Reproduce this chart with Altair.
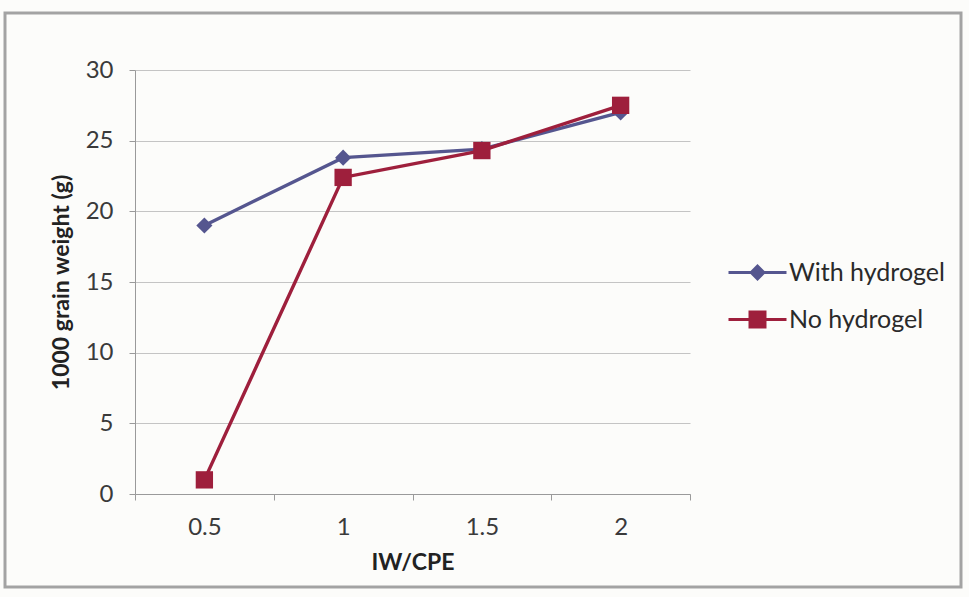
import altair as alt
import pandas as pd

# IW/CPE ratio levels and 1000-grain weight (g) for each treatment
iw_cpe = ["0.5", "1", "1.5", "2"]
with_hydrogel = [19.0, 23.8, 24.4, 27.0]
no_hydrogel = [1.0, 22.4, 24.3, 27.5]
series_names = ["With hydrogel", "No hydrogel"]
series_colors = ["#55568f", "#9e1f3c"]
series_shapes = ["diamond", "square"]
y_ticks = [0, 5, 10, 15, 20, 25, 30]

# legend glyphs: a short line segment with the series marker in the middle
legend_glyphs = [
    "M-2,-0.11 L2,-0.11 L2,0.11 L-2,0.11 Z M0,-0.58 L0.58,0 L0,0.58 L-0.58,0 Z",
    "M-2,-0.11 L2,-0.11 L2,0.11 L-2,0.11 Z M-0.62,-0.62 L0.62,-0.62 L0.62,0.62 L-0.62,0.62 Z",
]

rows = []
for name, vals in zip(series_names, [with_hydrogel, no_hydrogel]):
    for x, v in zip(iw_cpe, vals):
        rows.append({"IW/CPE": x, "weight": v, "series": name})
df = pd.DataFrame(rows)

FONT = "Lato"
W, H = 555, 424
LEFT, TOP = 135, 70

x_enc = alt.X(
    "IW/CPE:N",
    sort=iw_cpe,
    scale=alt.Scale(type="band", paddingInner=0, paddingOuter=0),
    axis=alt.Axis(
        title="IW/CPE",
        labelAngle=0,
        tickBand="extent",
        tickSize=6,
        labelPadding=15,
        labelFont=FONT,
        labelFontSize=24,
        labelColor="#3a3a3a",
        titleFont=FONT,
        titleFontSize=23,
        titleFontWeight="bold",
        titleColor="#222222",
        titlePadding=12,
        domainColor="#9a9a9a",
        tickColor="#9a9a9a",
        grid=False,
    ),
)
y_enc = alt.Y(
    "weight:Q",
    scale=alt.Scale(domain=[0, 30], nice=False, zero=True),
    axis=alt.Axis(
        title="1000 grain weight (g)",
        values=y_ticks,
        tickSize=6,
        labelPadding=16,
        labelFont=FONT,
        labelFontSize=24,
        labelColor="#3a3a3a",
        titleFont=FONT,
        titleFontSize=23,
        titleFontWeight="bold",
        titleColor="#222222",
        titlePadding=12,
        domainColor="#9a9a9a",
        tickColor="#9a9a9a",
        gridColor="#c4c4c4",
        gridWidth=1.2,
    ),
)
color_scale = alt.Scale(domain=series_names, range=series_colors)

base = alt.Chart(df)

layers = []
for name, shape, size in zip(series_names, series_shapes, [260, 300]):
    part = base.transform_filter(alt.datum.series == name)
    layers.append(
        part.mark_line(strokeWidth=3.4).encode(
            x=x_enc, y=y_enc,
            color=alt.Color("series:N", scale=color_scale, legend=None),
        )
    )
    layers.append(
        part.mark_point(filled=True, opacity=1, shape=shape, size=size).encode(
            x=x_enc, y=y_enc,
            color=alt.Color("series:N", scale=color_scale, legend=None),
        )
    )

legend_style = dict(
    title=None, orient="none", legendX=608, legendY=188,
    symbolSize=841, labelOffset=17, rowPadding=19,
    labelFont=FONT, labelFontSize=25, labelColor="#2a2a2a",
    symbolStrokeWidth=0,
)

# legend carrier: no rows drawn, only the legend built from the scales
legend_layer = base.transform_filter("false").mark_point(filled=True, opacity=1).encode(
    x=x_enc, y=y_enc,
    color=alt.Color("series:N", scale=color_scale, legend=alt.Legend(**legend_style)),
    shape=alt.Shape(
        "series:N",
        scale=alt.Scale(domain=series_names, range=legend_glyphs),
        legend=alt.Legend(**legend_style),
    ),
)

# outer frame around the whole figure
frame = alt.Chart(pd.DataFrame({"k": [0]})).mark_rect(
    fill=None, stroke="#a3a3a3", strokeWidth=3
).encode(
    x=alt.value(5 - LEFT), x2=alt.value(961 - LEFT),
    y=alt.value(13 - TOP), y2=alt.value(587 - TOP),
)

chart = alt.layer(frame, *layers, legend_layer).resolve_scale(
    color="independent", shape="independent"
).properties(
    width=W, height=H,
    padding={"left": LEFT, "top": TOP, "right": 969 - LEFT - W, "bottom": 597 - TOP - H},
    autosize=alt.AutoSizeParams(type="none"),
    background="#fcfcfa",
).configure_view(stroke=None)

chart.save("out.html", embed_options={"renderer": "svg", "actions": False})
